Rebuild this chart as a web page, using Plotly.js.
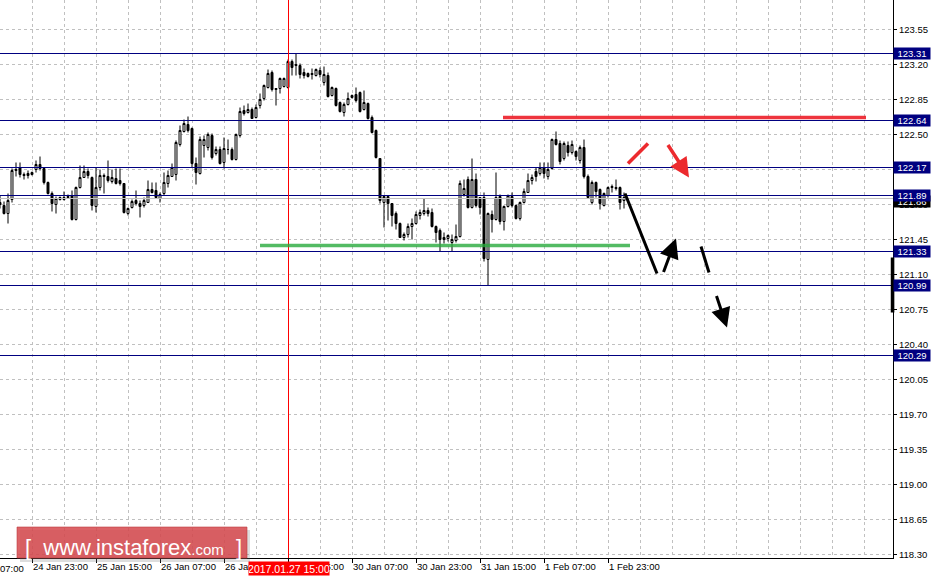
<!DOCTYPE html>
<html>
<head>
<meta charset="utf-8">
<script src="https://cdn.plot.ly/plotly-3.0.1.min.js"></script>
<style>
html,body{margin:0;padding:0;background:#fff;}
#chart{width:931px;height:578px;}
</style>
</head>
<body>
<div id="chart"></div>
<script>
// ---- data (H1 bars, bar index 8 = 24 Jan 15:00) ----
const firstBar = 8;
const openP = [
121.82,121.79,121.71,121.85,122.14,122.17,122.10,122.11,122.10,122.15,
122.20,122.16,122.02,121.91,121.80,121.85,121.85,121.87,121.89,121.65,
121.97,122.07,122.13,122.07,121.78,121.97,122.09,122.08,122.03,122.06,
122.04,122.01,121.71,121.77,121.84,121.81,121.79,121.82,121.95,121.94,
121.86,121.91,122.01,122.08,122.10,122.40,122.53,122.60,122.56,122.21,
122.11,122.39,122.37,122.49,122.31,122.35,122.22,122.35,122.35,122.25,
122.49,122.74,122.72,122.75,122.67,122.79,122.86,122.97,123.12,122.95,
122.96,122.98,122.97,123.23,123.20,123.19,123.12,123.11,123.10,123.09,
123.14,123.02,123.09,122.89,122.96,122.82,122.72,122.80,122.87,122.90,
122.92,122.75,122.81,122.67,122.54,122.26,121.82,121.88,121.81,121.71,
121.61,121.47,121.50,121.58,121.61,121.69,121.71,121.74,121.72,121.58,
121.54,121.45,121.46,121.42,121.44,121.48,121.90,122.05,121.77,122.05,
121.87,121.87,121.25,121.70,121.65,121.88,121.63,121.78,121.88,121.79,
121.66,121.82,121.92,122.04,122.13,122.11,122.17,122.08,122.16,122.45,
122.41,122.26,122.39,122.32,122.33,122.24,122.37,122.08,121.82,122.02,
121.95,121.79,121.89,121.97,121.96,121.97,121.84];
const highP = [
121.89,121.83,121.91,122.16,122.22,122.22,122.12,122.14,122.13,122.24,
122.28,122.17,122.03,121.93,121.88,121.88,121.93,121.90,121.94,121.98,
122.19,122.19,122.16,122.08,122.17,122.15,122.11,122.24,122.15,122.16,
122.16,122.01,121.77,121.85,121.94,121.84,121.87,122.04,122.02,122.02,
121.92,122.12,122.14,122.21,122.44,122.59,122.65,122.68,122.57,122.27,
122.48,122.49,122.52,122.51,122.38,122.38,122.47,122.45,122.37,122.51,
122.77,122.79,122.81,122.77,122.80,122.91,123.00,123.15,123.14,122.96,
123.07,123.07,123.25,123.25,123.31,123.21,123.16,123.12,123.16,123.16,
123.17,123.18,123.12,122.98,122.97,122.83,122.82,122.92,122.90,122.97,
122.93,122.94,122.82,122.69,122.55,122.26,121.89,121.89,121.81,121.73,
121.62,121.52,121.61,121.66,121.73,121.75,121.86,121.77,121.76,121.59,
121.56,121.52,121.50,121.50,121.60,122.04,122.05,122.08,122.26,122.11,
121.87,121.92,121.72,121.74,122.12,121.90,121.79,121.90,121.92,121.80,
121.83,121.96,122.11,122.10,122.17,122.22,122.22,122.22,122.46,122.53,
122.44,122.43,122.43,122.44,122.34,122.39,122.45,122.10,122.04,122.03,
121.96,121.92,121.98,122.00,122.05,121.98,121.92];
const lowP = [
121.76,121.70,121.61,121.82,122.08,122.07,122.05,122.06,122.09,122.12,
122.14,122.00,121.90,121.73,121.71,121.84,121.84,121.86,121.64,121.64,
121.96,122.07,122.06,121.74,121.72,121.94,121.91,122.02,122.01,122.00,
121.99,121.71,121.69,121.76,121.79,121.67,121.77,121.82,121.91,121.86,
121.82,121.89,121.97,122.08,122.04,122.38,122.52,122.52,122.17,122.00,
122.10,122.27,122.34,122.25,122.29,122.20,122.16,122.30,122.24,122.24,
122.47,122.69,122.71,122.66,122.66,122.76,122.84,122.96,122.93,122.79,
122.91,122.97,122.96,123.09,123.09,123.06,123.06,123.07,123.05,123.08,
123.07,122.99,122.87,122.88,122.78,122.72,122.68,122.79,122.86,122.82,
122.72,122.74,122.65,122.51,122.26,121.81,121.57,121.64,121.58,121.55,
121.47,121.44,121.47,121.45,121.60,121.65,121.69,121.68,121.57,121.42,
121.33,121.41,121.43,121.33,121.42,121.47,121.88,121.76,121.76,121.77,
121.70,121.23,120.99,121.52,121.64,121.60,121.54,121.77,121.77,121.65,
121.64,121.81,121.92,122.00,122.03,122.09,122.06,122.05,122.15,122.39,
122.20,122.24,122.28,122.30,122.24,122.21,122.06,121.86,121.80,121.87,
121.75,121.78,121.87,121.92,121.94,121.75,121.76];
const closeP = [
121.80,121.71,121.84,122.14,122.15,122.10,122.09,122.09,122.12,122.20,
122.16,122.02,121.91,121.81,121.86,121.87,121.87,121.88,121.65,121.97,
122.07,122.13,122.09,121.79,121.97,122.09,122.08,122.04,122.07,122.01,
122.01,121.72,121.76,121.83,121.81,121.78,121.84,121.95,121.92,121.87,
121.90,122.02,122.09,122.17,122.42,122.54,122.61,122.54,122.21,122.12,
122.45,122.45,122.50,122.27,122.35,122.21,122.36,122.35,122.25,122.50,
122.73,122.71,122.75,122.66,122.77,122.85,122.99,123.11,122.95,122.96,
123.06,123.06,123.23,123.17,123.19,123.10,123.09,123.08,123.11,123.15,
123.10,123.10,122.88,122.97,122.79,122.73,122.80,122.86,122.89,122.84,
122.73,122.82,122.66,122.52,122.27,121.84,121.88,121.81,121.69,121.61,
121.47,121.50,121.58,121.61,121.70,121.72,121.74,121.71,121.58,121.52,
121.45,121.47,121.49,121.45,121.48,122.01,121.96,121.77,122.05,121.79,
121.77,121.26,121.71,121.65,121.87,121.63,121.78,121.89,121.79,121.66,
121.82,121.93,122.04,122.07,122.08,122.17,122.11,122.15,122.45,122.40,
122.23,122.41,122.32,122.40,122.28,122.37,122.08,121.87,122.02,121.93,
121.81,121.91,121.97,121.98,121.97,121.82,121.87];

const tickBars   = [16, 32, 48, 64, 80, 96, 112, 128, 144, 160];
const tickLabels = ['24 Jan 23:00','25 Jan 15:00','26 Jan 07:00','26 Jan 23:00','27 Jan 15:00',
                    '30 Jan 07:00','30 Jan 23:00','31 Jan 15:00','1 Feb 07:00','1 Feb 23:00'];

const levels      = [123.31, 122.64, 122.17, 121.89, 121.33, 120.99, 120.29];
const bidPrice    = 121.86;
const crossBar    = 80.125;
const crossLabel  = '2017.01.27 15:00';

// drawn analysis objects: [bar0, price0, bar1, price1]
const redLevel    = [133.75, 122.67, 224.5, 122.67];
const greenLevel  = [73, 121.39, 165.5, 121.39];
const redStroke   = [165, 122.21, 170, 122.41];
const redArrow    = [174.75, 122.41, 180.25, 122.07];
const blackStroke1= [164.25, 121.91, 172.25, 121.11];
const blackArrow1 = [173.75, 121.11, 177, 121.46];
const blackStroke2= [183.25, 121.38, 185.25, 121.12];
const blackArrow2 = [187, 120.90, 189.75, 120.57];

const bars = openP.map((_, k) => firstBar + k);

const FONT = 'Liberation Sans, Arial, sans-serif';
const NAVY = '#000080';

const trace = {
  type: 'candlestick',
  x: bars, open: openP, high: highP, low: lowP, close: closeP,
  increasing: {line: {color: '#000000', width: 1}, fillcolor: '#ffffff'},
  decreasing: {line: {color: '#000000', width: 1}, fillcolor: '#000000'},
  whiskerwidth: 0,
  hoverinfo: 'skip',
  showlegend: false
};

const shapes = [];
// bid line
shapes.push({type:'line', xref:'paper', x0:0, x1:1, yref:'y', y0:bidPrice, y1:bidPrice,
  line:{color:'#c0c0c0', width:1}, layer:'above'});
// level lines
levels.forEach(v => shapes.push({type:'line', xref:'paper', x0:0, x1:1, yref:'y', y0:v, y1:v,
  line:{color:NAVY, width:1}, layer:'above'}));
// crosshair vertical
shapes.push({type:'line', xref:'x', x0:crossBar, x1:crossBar, yref:'paper', y0:0, y1:1,
  line:{color:'#ff0000', width:1}, layer:'above'});
// drawn lines
function seg(a, color, w){
  return {type:'line', xref:'x', yref:'y', x0:a[0], y0:a[1], x1:a[2], y1:a[3],
    line:{color:color, width:w}, layer:'above'};
}
shapes.push(seg(redLevel, 'rgba(236,30,40,0.9)', 3.5));
shapes.push(seg(greenLevel, 'rgba(40,170,60,0.8)', 3.5));
shapes.push(seg(redStroke, '#ec2a2e', 3.5));
shapes.push(seg(blackStroke1, '#000000', 3));
shapes.push(seg(blackStroke2, '#000000', 3));
// black bar on price scale
shapes.push({type:'rect', xref:'paper', x0:0.9975, x1:1.0015, yref:'y', y0:120.72, y1:121.27,
  fillcolor:'#000000', line:{width:0}, layer:'above'});
// logo box shadow + box
shapes.push({type:'rect', xref:'paper', yref:'paper', x0:20/893, x1:250/893, y0:-4/558, y1:28/558,
  fillcolor:'rgba(120,120,120,0.25)', line:{width:0}, layer:'above'});
shapes.push({type:'rect', xref:'paper', yref:'paper', x0:17/893, x1:247/893, y0:0, y1:31/558,
  fillcolor:'rgba(214,72,76,0.85)', line:{color:'rgba(190,60,64,0.6)', width:1}, layer:'above'});

const annotations = [];
// bid label (black)
annotations.push({xref:'paper', x:1, xanchor:'left', yref:'y', y:bidPrice - 0.03, yanchor:'middle',
  text:'121.86', showarrow:false, bgcolor:'#000000', font:{family:FONT, size:9.5, color:'#ffffff'},
  width:36, height:11, borderpad:0});
levels.forEach(v => annotations.push({xref:'paper', x:1, xanchor:'left', yref:'y', y:v, yanchor:'middle',
  text:v.toFixed(2), showarrow:false, bgcolor:NAVY, font:{family:FONT, size:9.5, color:'#ffffff'},
  width:36, height:11, borderpad:0}));
// crosshair time label
annotations.push({xref:'x', x:crossBar, xanchor:'center', yref:'paper', y:0, yanchor:'top', yshift:-3,
  text:crossLabel, showarrow:false, bgcolor:'#ff0000', font:{family:FONT, size:10.5, color:'#ffffff'},
  width:80, height:13, borderpad:0});
// cut-off first label
annotations.push({xref:'paper', x:0, xanchor:'left', yref:'paper', y:0, yanchor:'top', yshift:-3, xshift:-2,
  text:'07:00', showarrow:false, font:{family:FONT, size:9.5, color:'#000000'}});
// arrows
function arrow(a, color, w, s){
  return {xref:'x', yref:'y', axref:'x', ayref:'y', x:a[2], y:a[3], ax:a[0], ay:a[1],
    text:'', showarrow:true, arrowhead:2, arrowsize:s, arrowwidth:w, arrowcolor:color, standoff:0};
}
annotations.push(arrow(redArrow, '#ec2a2e', 3.5, 1.1));
annotations.push(arrow(blackArrow1, '#000000', 3, 1.3));
annotations.push(arrow(blackArrow2, '#000000', 3, 1.3));
// logo text
annotations.push({xref:'paper', yref:'paper', x:133/893, y:11/558, xanchor:'center', yanchor:'middle',
  text:'[  www.instaforex<span style="font-size:15px">.com</span>  ]', showarrow:false,
  font:{family:FONT, size:22, color:'#ffffff'}});

const layout = {
  width: 931, height: 578,
  margin: {l:0, r:38, t:0, b:20, pad:0},
  paper_bgcolor: '#ffffff', plot_bgcolor: '#ffffff',
  showlegend: false,
  hovermode: false,
  xaxis: {
    range: [8, 231.25], automargin: false,
    tickmode: 'array', tickvals: tickBars, ticktext: tickLabels,
    ticks: 'outside', ticklen: 4, tickcolor: '#000000', tickwidth: 1,
    ticklabelposition: 'outside right',
    tickfont: {family: FONT, size: 9.5, color: '#000000'},
    showline: true, linecolor: '#000000', linewidth: 1,
    showgrid: true, gridcolor: '#c0c0c0', griddash: '3px,3px', gridwidth: 1,
    minor: {tickmode: 'linear', tick0: 8, dtick: 8, showgrid: true, gridcolor: '#c0c0c0',
            griddash: '3px,3px', ticks: ''},
    zeroline: false, fixedrange: true,
    rangeslider: {visible: false}
  },
  yaxis: {
    side: 'right', range: [118.265, 123.845], automargin: false,
    tickmode: 'linear', tick0: 118.30, dtick: 0.35, tickformat: '.2f',
    ticks: 'outside', ticklen: 3, tickcolor: '#000000',
    tickfont: {family: FONT, size: 9.5, color: '#000000'},
    showline: true, linecolor: '#000000', linewidth: 1,
    showgrid: true, gridcolor: '#c0c0c0', griddash: '3px,3px', gridwidth: 1,
    zeroline: false, fixedrange: true
  },
  shapes: shapes,
  annotations: annotations
};

Plotly.newPlot('chart', [trace], layout, {displayModeBar: false, staticPlot: true});
</script>
</body>
</html>
